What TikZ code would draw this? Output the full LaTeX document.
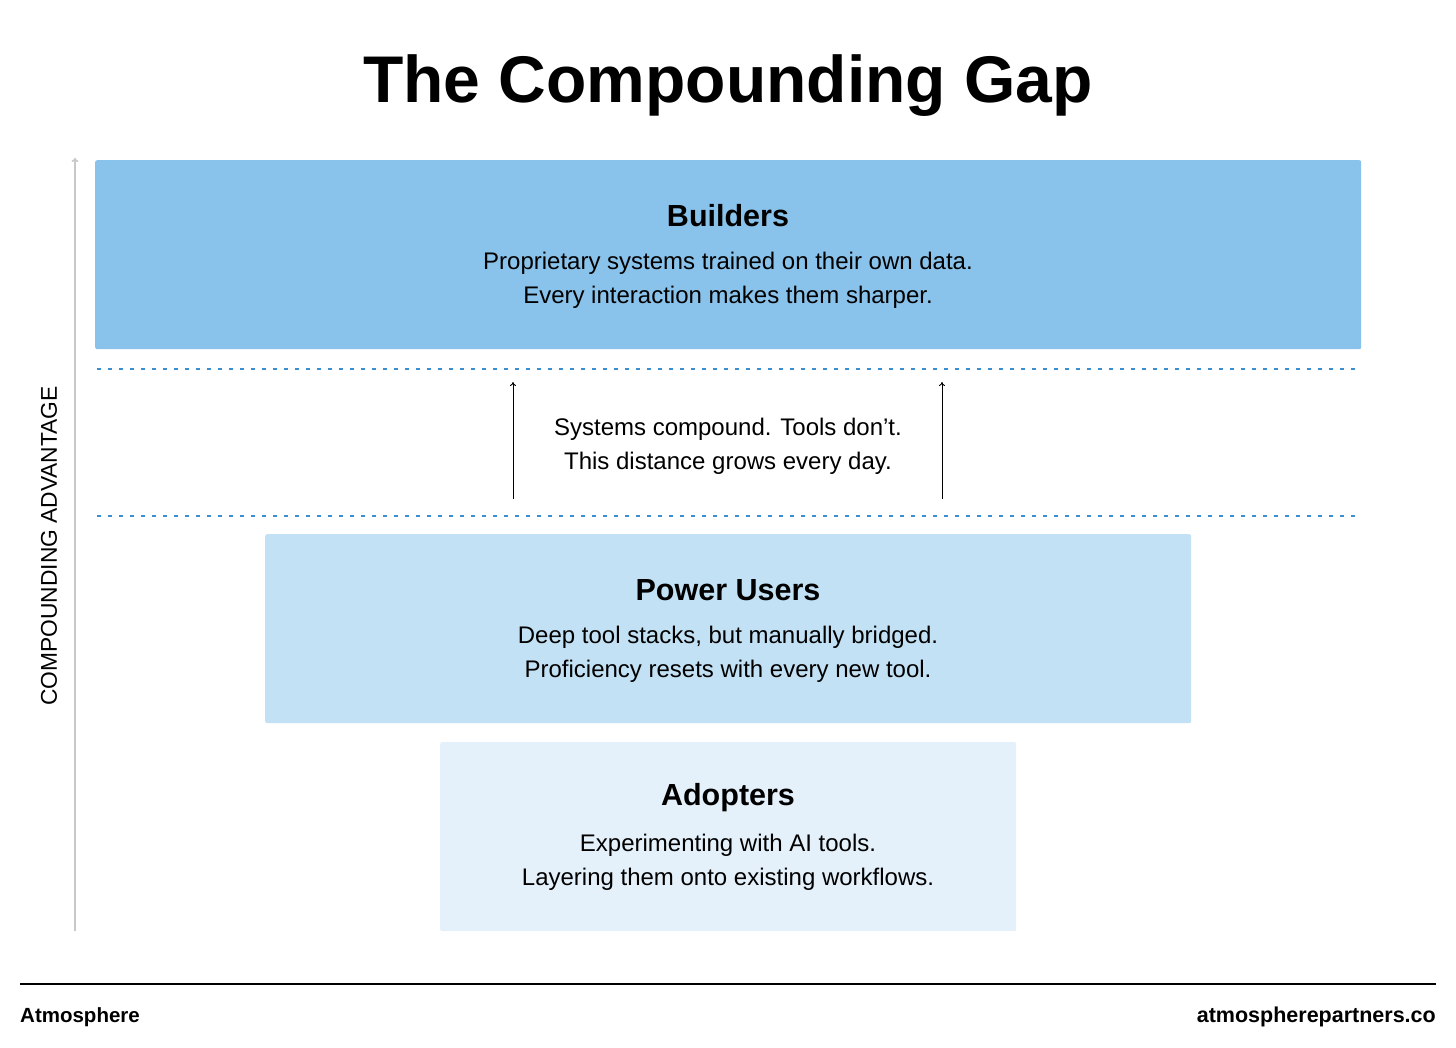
\documentclass[tikz,border=0pt]{standalone}
\usepackage{fontspec}
\setmainfont{Liberation Sans}
\usetikzlibrary{arrows.meta}
\definecolor{bA}{HTML}{89C2EA}
\definecolor{bB}{HTML}{C3E1F4}
\definecolor{bC}{HTML}{E5F1FA}
\definecolor{dotblue}{HTML}{3A8FD0}
\definecolor{axisgray}{HTML}{C8C8C8}
\tikzset{
  tier/.style={draw=none, rounded corners=2pt, inner sep=0pt, anchor=north west},
  tiertitle/.style={font=\fontsize{30.5}{34}\selectfont\bfseries, anchor=center, inner sep=0pt},
  tiertext/.style={font=\fontsize{24}{34}\selectfont, anchor=center, align=center, inner sep=0pt},
  gapline/.style={dotblue, line width=1.2pt, dash pattern=on 3.5pt off 7.5pt},
  gaparrow/.style={black, line width=0.9pt, -{To[length=4pt,width=6pt]}},
}
\begin{document}
\begin{tikzpicture}[x=1pt,y=-1pt]
\useasboundingbox[fill=white] (0,0) rectangle (1456,1048);
% title
\node[font=\fontsize{66}{72}\selectfont\bfseries, inner sep=0pt] (title) at (728,86) {The Compounding Gap};
% axis
\coordinate (axbot) at (75,931);
\coordinate (axtop) at (75,158);
\draw[axisgray, line width=1.6pt, -{To[length=4pt,width=7pt]}] (axbot) -- (axtop);
\node[rotate=90, font=\fontsize{22.8}{26}\selectfont, inner sep=0pt] (axlabel) at (49,546) {COMPOUNDING ADVANTAGE};
% tiers
\node[tier, fill=bA, minimum width=1266pt, minimum height=189pt] (builders) at (95,160) {};
\node[tier, fill=bB, minimum width=926pt, minimum height=189pt] (power) at (265,534) {};
\node[tier, fill=bC, minimum width=576pt, minimum height=189pt] (adopters) at (440,742) {};
\node[tiertitle] (bt) at (728,216) {Builders};
\node[tiertext] (bx) at (728,280) {Proprietary systems trained on their own data.\\Every interaction makes them sharper.};
\node[tiertitle] (pt) at (728,590) {Power Users};
\node[tiertext] (px) at (728,654) {Deep tool stacks, but manually bridged.\\Proficiency resets with every new tool.};
\node[tiertitle] (at) at (728,798) {Adopters};
\node[tiertext] (ax) at (728,862) {Experimenting with AI tools.\\Layering them onto existing workflows.};
% gap
\coordinate (g1l) at (97,369); \coordinate (g1r) at (1360,369);
\coordinate (g2l) at (97,516); \coordinate (g2r) at (1360,516);
\draw[gapline] (g1l) -- (g1r);
\draw[gapline] (g2l) -- (g2r);
\coordinate (a1b) at (513,499); \coordinate (a1t) at (513,382);
\coordinate (a2b) at (942,499); \coordinate (a2t) at (942,382);
\draw[gaparrow] (a1b) -- (a1t);
\draw[gaparrow] (a2b) -- (a2t);
\node[tiertext] (gx) at (728,446) {Systems compound. Tools don’t.\\This distance grows every day.};
% footer
\coordinate (fl) at (20,984); \coordinate (fr) at (1436,984);
\draw[black, line width=2pt] (fl) -- (fr);
\node[anchor=west, font=\fontsize{20.5}{24}\selectfont\bfseries, inner sep=0pt] (brand) at (20,1017) {Atmosphere};
\node[anchor=east, font=\fontsize{21.5}{24}\selectfont\bfseries, inner sep=0pt] (url) at (1436,1017) {atmospherepartners.co};
\end{tikzpicture}
\end{document}
